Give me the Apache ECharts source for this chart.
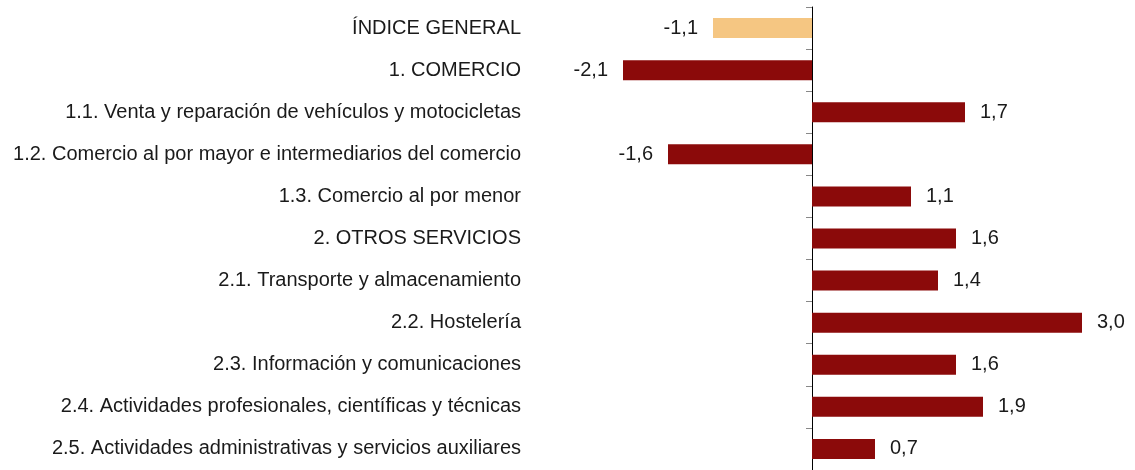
<!DOCTYPE html>
<html>
<head>
<meta charset="utf-8">
<script src="https://cdn.jsdelivr.net/npm/echarts@6/dist/echarts.min.js"></script>
<style>
  html, body { margin: 0; padding: 0; background: #fff; }
  #chart { width: 1135px; height: 470px; }
</style>
</head>
<body>
<div id="chart"></div>
<script>
var categories = [
  'ÍNDICE GENERAL',
  '1. COMERCIO',
  '1.1. Venta y reparación de vehículos y motocicletas',
  '1.2. Comercio al por mayor e intermediarios del comercio',
  '1.3. Comercio al por menor',
  '2. OTROS SERVICIOS',
  '2.1. Transporte y almacenamiento',
  '2.2. Hostelería',
  '2.3. Información y comunicaciones',
  '2.4. Actividades profesionales, científicas y técnicas',
  '2.5. Actividades administrativas y servicios auxiliares'
];
var values = [-1.1, -2.1, 1.7, -1.6, 1.1, 1.6, 1.4, 3.0, 1.6, 1.9, 0.7];
var highlightIndex = 0; // general index drawn in light orange

var FONT = 'Liberation Sans';

var chart = echarts.init(document.getElementById('chart'));

var option = {
  backgroundColor: '#ffffff',
  animation: false,
  grid: { left: 587, right: 8, top: 7, height: 467.5 },
  xAxis: {
    type: 'value',
    min: -2.5,
    max: 3.5,
    show: false
  },
  yAxis: [
    {
      type: 'category',
      data: categories,
      inverse: true,
      axisLine: { show: false, onZero: false },
      axisTick: { show: false },
      axisLabel: {
        margin: 66,
        fontFamily: FONT,
        fontSize: 20,
        color: '#1a1a1a'
      }
    },
    {
      type: 'category',
      data: categories,
      inverse: true,
      position: 'left',
      axisLine: { show: true, onZero: true, lineStyle: { color: '#000', width: 1 } },
      axisTick: { show: true, length: 6, lineStyle: { color: '#888' } },
      axisLabel: { show: false }
    }
  ],
  series: [
    {
      type: 'bar',
      yAxisIndex: 0,
      barWidth: 20,
      data: values.map(function (v, i) {
        return {
          value: v,
          itemStyle: { color: i === highlightIndex ? '#F5C682' : '#8B0A0A' },
          label: { position: v < 0 ? 'left' : 'right' }
        };
      }),
      label: {
        show: true,
        distance: 15,
        fontFamily: FONT,
        fontSize: 20,
        color: '#1a1a1a',
        formatter: function (p) {
          return p.value.toFixed(1).replace('.', ',');
        }
      }
    }
  ]
};

chart.setOption(option);
</script>
</body>
</html>
